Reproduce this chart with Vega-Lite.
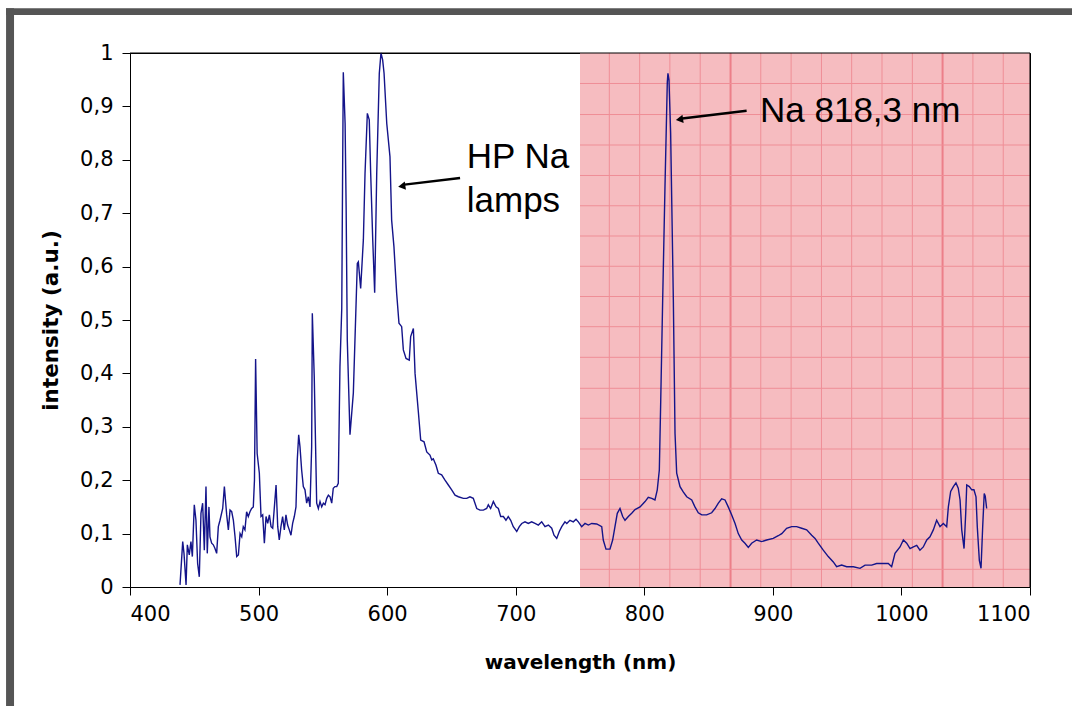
{
  "$schema": "https://vega.github.io/schema/vega-lite/v6.json",
  "width": 900,
  "height": 534,
  "autosize": {"type": "none"},
  "padding": {"left": 130, "top": 53, "right": 42, "bottom": 119},
  "background": "white",
  "config": {
    "view": {"stroke": "black", "strokeWidth": 1},
    "axis": {
      "labelFont": "DejaVu Sans",
      "labelFontSize": 21,
      "labelColor": "black",
      "titleFont": "DejaVu Sans",
      "titleFontWeight": "bold",
      "titleFontSize": 20,
      "titleColor": "black",
      "domainColor": "black",
      "tickColor": "black",
      "tickSize": 8,
      "grid": false
    }
  },
  "datasets": {
    "spectrum": [
      {"w":438.9,"i":0.004},{"w":441.0,"i":0.085},{"w":442.0,"i":0.063},{"w":443.6,"i":0.004},{"w":444.6,"i":0.079},{"w":446.1,"i":0.06},{"w":447.4,"i":0.085},{"w":448.5,"i":0.057},{"w":450.0,"i":0.154},{"w":451.3,"i":0.125},{"w":452.6,"i":0.044},{"w":453.9,"i":0.019},{"w":455.2,"i":0.138},{"w":456.5,"i":0.157},{"w":457.8,"i":0.069},{"w":459.1,"i":0.188},{"w":460.1,"i":0.063},{"w":461.4,"i":0.15},{"w":462.2,"i":0.094},{"w":463.5,"i":0.082},{"w":464.8,"i":0.079},{"w":466.1,"i":0.072},{"w":467.4,"i":0.063},{"w":468.7,"i":0.113},{"w":470.0,"i":0.125},{"w":472.1,"i":0.147},{"w":473.4,"i":0.188},{"w":475.2,"i":0.135},{"w":476.5,"i":0.107},{"w":477.8,"i":0.144},{"w":479.1,"i":0.141},{"w":480.4,"i":0.125},{"w":481.7,"i":0.094},{"w":483.0,"i":0.057},{"w":484.3,"i":0.06},{"w":485.6,"i":0.1},{"w":486.9,"i":0.094},{"w":488.1,"i":0.113},{"w":489.4,"i":0.107},{"w":490.7,"i":0.141},{"w":492.0,"i":0.132},{"w":493.3,"i":0.141},{"w":494.6,"i":0.147},{"w":495.9,"i":0.15},{"w":496.8,"i":0.2},{"w":497.7,"i":0.427},{"w":498.9,"i":0.25},{"w":500.6,"i":0.213},{"w":501.9,"i":0.132},{"w":503.2,"i":0.135},{"w":504.5,"i":0.082},{"w":505.8,"i":0.132},{"w":507.1,"i":0.119},{"w":508.4,"i":0.135},{"w":509.7,"i":0.113},{"w":511.0,"i":0.11},{"w":512.3,"i":0.15},{"w":513.6,"i":0.191},{"w":514.9,"i":0.113},{"w":516.1,"i":0.088},{"w":517.4,"i":0.113},{"w":518.7,"i":0.132},{"w":520.0,"i":0.107},{"w":521.3,"i":0.135},{"w":522.6,"i":0.116},{"w":523.9,"i":0.107},{"w":525.2,"i":0.097},{"w":526.5,"i":0.119},{"w":527.8,"i":0.132},{"w":529.1,"i":0.15},{"w":530.1,"i":0.238},{"w":531.2,"i":0.285},{"w":532.2,"i":0.263},{"w":533.5,"i":0.219},{"w":534.8,"i":0.188},{"w":536.1,"i":0.182},{"w":537.4,"i":0.157},{"w":538.7,"i":0.169},{"w":540.0,"i":0.15},{"w":541.3,"i":0.263},{"w":541.8,"i":0.5125},{"w":543.3,"i":0.394},{"w":545.2,"i":0.157},{"w":546.5,"i":0.147},{"w":547.8,"i":0.16},{"w":549.1,"i":0.15},{"w":550.4,"i":0.157},{"w":551.7,"i":0.154},{"w":553.0,"i":0.166},{"w":554.3,"i":0.172},{"w":555.6,"i":0.169},{"w":556.9,"i":0.157},{"w":558.1,"i":0.185},{"w":559.4,"i":0.188},{"w":560.8,"i":0.188},{"w":562.0,"i":0.194},{"w":563.3,"i":0.4125},{"w":564.7,"i":0.522},{"w":565.3,"i":0.75},{"w":565.9,"i":0.964},{"w":567.3,"i":0.868},{"w":568.1,"i":0.712},{"w":569.0,"i":0.4625},{"w":571.1,"i":0.285},{"w":573.7,"i":0.363},{"w":576.8,"i":0.606},{"w":577.6,"i":0.609},{"w":579.4,"i":0.559},{"w":581.5,"i":0.65},{"w":582.8,"i":0.775},{"w":584.6,"i":0.887},{"w":586.1,"i":0.875},{"w":587.2,"i":0.775},{"w":588.8,"i":0.65},{"w":590.3,"i":0.551},{"w":591.9,"i":0.775},{"w":593.9,"i":0.962},{"w":595.2,"i":1.0},{"w":596.5,"i":0.987},{"w":597.6,"i":0.962},{"w":599.7,"i":0.868},{"w":602.2,"i":0.806},{"w":603.5,"i":0.687},{"w":605.3,"i":0.637},{"w":607.4,"i":0.55},{"w":609.2,"i":0.494},{"w":611.3,"i":0.4875},{"w":612.6,"i":0.444},{"w":614.7,"i":0.428},{"w":617.2,"i":0.425},{"w":618.3,"i":0.469},{"w":620.4,"i":0.484},{"w":621.7,"i":0.4},{"w":624.2,"i":0.33},{"w":626.1,"i":0.275},{"w":628.7,"i":0.272},{"w":630.8,"i":0.253},{"w":633.3,"i":0.247},{"w":634.7,"i":0.238},{"w":635.9,"i":0.24},{"w":638.0,"i":0.228},{"w":639.8,"i":0.213},{"w":642.4,"i":0.21},{"w":645.0,"i":0.2},{"w":647.6,"i":0.191},{"w":650.2,"i":0.182},{"w":652.8,"i":0.172},{"w":655.4,"i":0.169},{"w":659.3,"i":0.166},{"w":661.9,"i":0.166},{"w":664.4,"i":0.169},{"w":667.0,"i":0.166},{"w":669.7,"i":0.147},{"w":672.2,"i":0.144},{"w":674.8,"i":0.144},{"w":677.4,"i":0.147},{"w":678.7,"i":0.154},{"w":680.5,"i":0.147},{"w":682.6,"i":0.16},{"w":684.7,"i":0.15},{"w":686.5,"i":0.147},{"w":688.3,"i":0.132},{"w":690.4,"i":0.132},{"w":692.4,"i":0.125},{"w":694.2,"i":0.132},{"w":696.1,"i":0.125},{"w":698.1,"i":0.113},{"w":700.8,"i":0.104},{"w":702.8,"i":0.113},{"w":704.7,"i":0.119},{"w":707.2,"i":0.122},{"w":709.8,"i":0.119},{"w":712.4,"i":0.122},{"w":715.0,"i":0.119},{"w":717.6,"i":0.116},{"w":720.2,"i":0.122},{"w":722.8,"i":0.113},{"w":725.4,"i":0.116},{"w":728.0,"i":0.11},{"w":729.8,"i":0.097},{"w":731.9,"i":0.091},{"w":733.9,"i":0.104},{"w":735.8,"i":0.113},{"w":738.3,"i":0.122},{"w":739.7,"i":0.119},{"w":742.2,"i":0.125},{"w":744.8,"i":0.122},{"w":746.9,"i":0.127},{"w":748.7,"i":0.122},{"w":751.3,"i":0.113},{"w":753.9,"i":0.119},{"w":756.5,"i":0.116},{"w":759.1,"i":0.119},{"w":763.0,"i":0.118},{"w":766.9,"i":0.113},{"w":768.1,"i":0.088},{"w":770.2,"i":0.071},{"w":773.3,"i":0.071},{"w":775.4,"i":0.088},{"w":777.2,"i":0.113},{"w":779.0,"i":0.138},{"w":781.1,"i":0.147},{"w":783.2,"i":0.132},{"w":785.0,"i":0.125},{"w":787.6,"i":0.132},{"w":790.2,"i":0.138},{"w":792.8,"i":0.145},{"w":796.7,"i":0.15},{"w":800.6,"i":0.16},{"w":803.1,"i":0.168},{"w":805.8,"i":0.166},{"w":808.3,"i":0.163},{"w":810.1,"i":0.182},{"w":811.7,"i":0.219},{"w":812.8,"i":0.35},{"w":814.3,"i":0.5375},{"w":816.1,"i":0.75},{"w":817.9,"i":0.945},{"w":818.4,"i":0.962},{"w":819.2,"i":0.95},{"w":820.5,"i":0.85},{"w":822.6,"i":0.5375},{"w":823.9,"i":0.288},{"w":825.2,"i":0.213},{"w":827.8,"i":0.188},{"w":830.3,"i":0.178},{"w":833.0,"i":0.169},{"w":836.9,"i":0.163},{"w":839.4,"i":0.15},{"w":842.0,"i":0.139},{"w":844.7,"i":0.135},{"w":848.5,"i":0.135},{"w":852.4,"i":0.139},{"w":855.0,"i":0.147},{"w":857.6,"i":0.157},{"w":860.2,"i":0.165},{"w":862.8,"i":0.163},{"w":865.3,"i":0.15},{"w":868.0,"i":0.135},{"w":870.6,"i":0.119},{"w":873.1,"i":0.1},{"w":875.8,"i":0.088},{"w":878.3,"i":0.082},{"w":880.9,"i":0.074},{"w":883.5,"i":0.082},{"w":887.4,"i":0.088},{"w":891.3,"i":0.085},{"w":895.2,"i":0.088},{"w":900.3,"i":0.091},{"w":904.2,"i":0.096},{"w":906.9,"i":0.1},{"w":910.7,"i":0.11},{"w":914.6,"i":0.113},{"w":918.5,"i":0.113},{"w":922.4,"i":0.11},{"w":926.3,"i":0.107},{"w":930.2,"i":0.097},{"w":932.8,"i":0.091},{"w":935.3,"i":0.082},{"w":939.2,"i":0.069},{"w":943.1,"i":0.057},{"w":947.0,"i":0.047},{"w":949.6,"i":0.038},{"w":953.5,"i":0.041},{"w":957.4,"i":0.038},{"w":962.6,"i":0.038},{"w":967.8,"i":0.035},{"w":971.7,"i":0.041},{"w":976.9,"i":0.041},{"w":980.7,"i":0.044},{"w":985.9,"i":0.044},{"w":989.8,"i":0.044},{"w":992.4,"i":0.038},{"w":995.0,"i":0.063},{"w":998.9,"i":0.075},{"w":1001.5,"i":0.088},{"w":1004.1,"i":0.082},{"w":1006.7,"i":0.072},{"w":1009.3,"i":0.075},{"w":1011.9,"i":0.078},{"w":1014.4,"i":0.069},{"w":1017.0,"i":0.075},{"w":1019.7,"i":0.088},{"w":1022.2,"i":0.094},{"w":1024.8,"i":0.107},{"w":1027.4,"i":0.125},{"w":1030.0,"i":0.113},{"w":1032.6,"i":0.119},{"w":1035.2,"i":0.113},{"w":1036.5,"i":0.15},{"w":1038.3,"i":0.179},{"w":1040.4,"i":0.188},{"w":1042.4,"i":0.195},{"w":1044.2,"i":0.185},{"w":1045.6,"i":0.163},{"w":1046.9,"i":0.107},{"w":1048.7,"i":0.072},{"w":1050.0,"i":0.138},{"w":1050.8,"i":0.191},{"w":1052.8,"i":0.188},{"w":1054.7,"i":0.182},{"w":1056.4,"i":0.182},{"w":1058.0,"i":0.169},{"w":1059.0,"i":0.113},{"w":1060.6,"i":0.05},{"w":1061.9,"i":0.035},{"w":1063.2,"i":0.113},{"w":1064.4,"i":0.175},{"w":1065.2,"i":0.17},{"w":1066.3,"i":0.147}
    ],
    "band": [{"x": 750, "x2": 1100, "y": 0, "y2": 1}],
    "vgrid": [{"w":772.8},{"w":796.4},{"w":819.9},{"w":843.5},{"w":890.6},{"w":914.2},{"w":937.8},{"w":961.3},{"w":984.9},{"w":1008.5},{"w":1055.6},{"w":1079.2}],
    "vgridMajor": [{"w":867.1},{"w":1032.0}],
    "hgrid": [{"i":0.0331},{"i":0.0893},{"i":0.1455},{"i":0.2013},{"i":0.2584},{"i":0.3159},{"i":0.3721},{"i":0.4301},{"i":0.4875},{"i":0.544},{"i":0.6006},{"i":0.6573},{"i":0.7139},{"i":0.7706},{"i":0.8277},{"i":0.8848},{"i":0.9429}],
    "frame": [
      {"x": 303.6, "x2": 309.8, "y": -0.25, "y2": 1.0837},
      {"x": 303.6, "x2": 1140, "y": 1.0712, "y2": 1.0837}
    ],
    "arrows": [
      {"x": 656.7, "y": 0.766, "x2": 613.5, "y2": 0.7535},
      {"x": 879.6, "y": 0.892, "x2": 829.5, "y2": 0.8775}
    ],
    "heads": [
      {"x": 612.3, "y": 0.751},
      {"x": 828.3, "y": 0.876}
    ],
    "labels": [
      {"t": "HP Na", "x": 661.9, "y": 0.785},
      {"t": "lamps", "x": 661.9, "y": 0.702},
      {"t": "Na 818,3 nm", "x": 890, "y": 0.871}
    ]
  },
  "layer": [
    {
      "data": {"name": "band"},
      "mark": {"type": "rect", "color": "#f6bcc0"},
      "encoding": {
        "x": {"field": "x", "type": "quantitative", "scale": {"domain": [400, 1100], "nice": false, "zero": false},
              "axis": {"values": [400, 500, 600, 700, 800, 900, 1000, 1100], "format": "d", "title": "wavelength (nm)", "labelPadding": 8, "titlePadding": 28}},
        "x2": {"field": "x2"},
        "y": {"field": "y", "type": "quantitative", "scale": {"domain": [0, 1], "nice": false},
              "axis": {"values": [0, 0.1, 0.2, 0.3, 0.4, 0.5, 0.6, 0.7, 0.8, 0.9, 1], "title": "intensity (a.u.)", "titleFontSize": 21.5,
                       "labelExpr": "replace(format(datum.value, '.1~f'), '.', ',')", "labelPadding": 9, "titlePadding": 17}},
        "y2": {"field": "y2"}
      }
    },
    {
      "data": {"name": "vgrid"},
      "mark": {"type": "rule", "color": "#ef8e96", "strokeWidth": 1},
      "encoding": {"x": {"field": "w", "type": "quantitative"}, "y": {"datum": 0}, "y2": {"datum": 1}}
    },
    {
      "data": {"name": "vgridMajor"},
      "mark": {"type": "rule", "color": "#ec7f89", "strokeWidth": 2},
      "encoding": {"x": {"field": "w", "type": "quantitative"}, "y": {"datum": 0}, "y2": {"datum": 1}}
    },
    {
      "data": {"name": "hgrid"},
      "mark": {"type": "rule", "color": "#ef8e96", "strokeWidth": 1},
      "encoding": {"y": {"field": "i", "type": "quantitative"}, "x": {"datum": 750}, "x2": {"datum": 1100}}
    },
    {
      "data": {"name": "spectrum"},
      "mark": {"type": "line", "color": "#14148a", "strokeWidth": 1.4, "interpolate": "linear"},
      "encoding": {"x": {"field": "w", "type": "quantitative"}, "y": {"field": "i", "type": "quantitative"}}
    },
    {
      "data": {"name": "band"},
      "mark": {"type": "rule", "color": "black", "strokeWidth": 1},
      "encoding": {"y": {"datum": 1}}
    },
    {
      "data": {"name": "band"},
      "mark": {"type": "rule", "color": "black", "strokeWidth": 1},
      "encoding": {"x": {"datum": 1100}}
    },
    {
      "data": {"name": "arrows"},
      "mark": {"type": "rule", "color": "black", "strokeWidth": 2.5},
      "encoding": {"x": {"field": "x", "type": "quantitative"}, "y": {"field": "y", "type": "quantitative"}, "x2": {"field": "x2"}, "y2": {"field": "y2"}}
    },
    {
      "data": {"name": "heads"},
      "mark": {"type": "point", "shape": "triangle", "filled": true, "color": "black", "size": 70, "angle": 262, "opacity": 1},
      "encoding": {"x": {"field": "x", "type": "quantitative"}, "y": {"field": "y", "type": "quantitative"}}
    },
    {
      "data": {"name": "labels"},
      "mark": {"type": "text", "font": "Liberation Sans", "fontSize": 35, "color": "black", "align": "left", "baseline": "alphabetic"},
      "encoding": {"x": {"field": "x", "type": "quantitative"}, "y": {"field": "y", "type": "quantitative"}, "text": {"field": "t"}}
    },
    {
      "data": {"name": "frame"},
      "mark": {"type": "rect", "color": "#555555", "clip": false},
      "encoding": {"x": {"field": "x", "type": "quantitative"}, "x2": {"field": "x2"}, "y": {"field": "y", "type": "quantitative"}, "y2": {"field": "y2"}}
    }
  ]
}
